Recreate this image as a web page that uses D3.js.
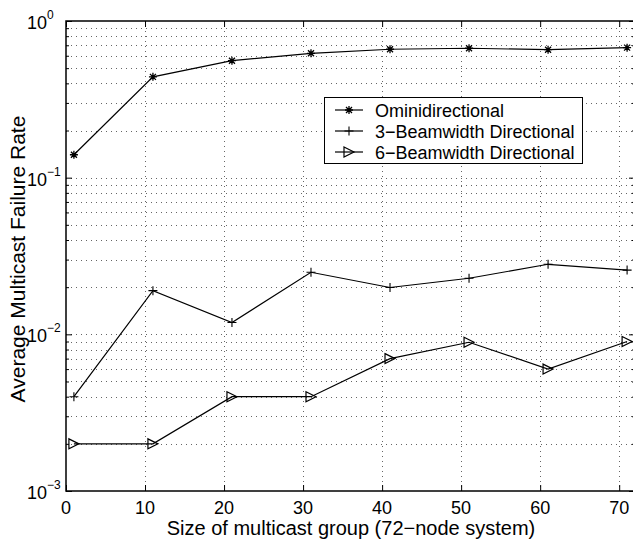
<!DOCTYPE html>
<html><head><meta charset="utf-8">
<script src="https://cdn.jsdelivr.net/npm/d3@7"></script>
<style>body{margin:0;background:#fff}svg{display:block}text{font-family:"Liberation Sans",Arial,Helvetica,sans-serif;fill:#000}</style>
</head><body>
<script>
const groupSizes = [1, 11, 21, 31, 41, 51, 61, 71];
const omni = [0.14, 0.44, 0.558, 0.622, 0.66, 0.67, 0.656, 0.676];
const beam3 = [0.004, 0.019, 0.0119, 0.0249, 0.0199, 0.0228, 0.028, 0.0257];
const beam6 = [0.002, 0.002, 0.004, 0.004, 0.007, 0.0089, 0.006, 0.009];
const seriesNames = ["Ominidirectional", "3\u2212Beamwidth Directional", "6\u2212Beamwidth Directional"];
const xTicks = [0, 10, 20, 30, 40, 50, 60, 70];
const yDecades = [1e-3, 1e-2, 1e-1, 1e0];
const yExponents = ["\u22123", "\u22122", "\u22121", "0"];

const W = 633, H = 540;
const m = {left: 66, top: 21, right: 635, bottom: 491};
const svg = d3.select("body").append("svg").attr("width", W).attr("height", H);
const x = d3.scaleLinear().domain([0, 72]).range([m.left, m.right]);
const y = d3.scaleLog().domain([1e-3, 1]).range([m.bottom, m.top]);

const minorVals = [];
[1e-3, 1e-2, 1e-1].forEach(d => { for (let k = 2; k <= 9; k++) minorVals.push(d * k); });
const allY = yDecades.concat(minorVals);

const grid = svg.append("g").attr("stroke", "#666").attr("stroke-width", 1).attr("stroke-dasharray", "1,4");
grid.selectAll("line.h").data(allY.filter(v => v > 1e-3 && v < 1)).enter().append("line")
  .attr("x1", m.left).attr("x2", m.right).attr("y1", d => Math.round(y(d)) + 0.5).attr("y2", d => Math.round(y(d)) + 0.5);
grid.selectAll("line.v").data(xTicks.filter(v => v > 0)).enter().append("line")
  .attr("y1", m.top).attr("y2", m.bottom).attr("x1", d => Math.round(x(d)) + 0.5).attr("x2", d => Math.round(x(d)) + 0.5);

const axB = svg.append("g").attr("transform", `translate(0,${m.bottom})`)
  .call(d3.axisBottom(x).tickValues(xTicks).tickSizeInner(-6).tickSizeOuter(0).tickFormat(""));
const axT = svg.append("g").attr("transform", `translate(0,${m.top})`)
  .call(d3.axisTop(x).tickValues(xTicks).tickSizeInner(-6).tickSizeOuter(0).tickFormat(""));
const axL = svg.append("g").attr("transform", `translate(${m.left},0)`)
  .call(d3.axisLeft(y).tickValues(yDecades).tickSizeInner(-6).tickSizeOuter(0).tickFormat(""));
const axR = svg.append("g").attr("transform", `translate(${m.right},0)`)
  .call(d3.axisRight(y).tickValues(yDecades).tickSizeInner(-6).tickSizeOuter(0).tickFormat(""));
const axLm = svg.append("g").attr("transform", `translate(${m.left},0)`)
  .call(d3.axisLeft(y).tickValues(minorVals).tickSizeInner(-3).tickSizeOuter(0).tickFormat(""));
const axRm = svg.append("g").attr("transform", `translate(${m.right},0)`)
  .call(d3.axisRight(y).tickValues(minorVals).tickSizeInner(-3).tickSizeOuter(0).tickFormat(""));
[axB, axT, axL, axR, axLm, axRm].forEach(a => {
  a.select(".domain").remove();
  a.selectAll("line").attr("stroke", "#000").attr("stroke-width", 1);
});
svg.append("rect").attr("x", m.left).attr("y", m.top).attr("width", m.right - m.left).attr("height", m.bottom - m.top)
  .attr("fill", "none").attr("stroke", "#000").attr("stroke-width", 1.5);

svg.append("g").selectAll("text").data(xTicks).enter().append("text")
  .attr("x", d => x(d)).attr("y", 514).attr("text-anchor", "middle").attr("font-size", 18).text(d => d);
const yl = svg.append("g").selectAll("g").data(yDecades).enter().append("g");
yl.append("text").attr("x", 47).attr("y", d => y(d) + 8).attr("text-anchor", "end").attr("font-size", 18).text("10");
yl.append("text").attr("x", 47).attr("y", (d, i) => y(d) - 2).attr("font-size", 12).text((d, i) => yExponents[i]);

svg.append("text").attr("x", 351).attr("y", 535).attr("text-anchor", "middle").attr("font-size", 20)
  .text("Size of multicast group (72\u2212node system)");
svg.append("text").attr("transform", `translate(25,259)rotate(-90)`).attr("text-anchor", "middle")
  .attr("font-size", 21).text("Average Multicast Failure Rate");

const line = d3.line().x(d => x(d[0])).y(d => y(d[1]));
const allSeries = [omni, beam3, beam6];
const markers = ["star", "plus", "tri"];
function drawMarker(g, type, cx, cy) {
  if (type === "star") {
    const r = 4;
    const q = r * 0.75;
    g.append("path").attr("stroke", "#000").attr("stroke-width", 1.3).attr("fill", "none")
      .attr("d", `M${cx - r},${cy}H${cx + r}M${cx},${cy - r}V${cy + r}M${cx - q},${cy - q}L${cx + q},${cy + q}M${cx - q},${cy + q}L${cx + q},${cy - q}`);
  } else if (type === "plus") {
    const r = 4.5;
    g.append("path").attr("stroke", "#000").attr("stroke-width", 1.1).attr("fill", "none")
      .attr("d", `M${cx - r},${cy}H${cx + r}M${cx},${cy - r}V${cy + r}`);
  } else {
    const r = 5;
    g.append("path").attr("stroke", "#000").attr("stroke-width", 1.2).attr("fill", "none")
      .attr("d", `M${cx - r},${cy - r}L${cx + r},${cy}L${cx - r},${cy + r}Z`);
  }
}
allSeries.forEach((vals, si) => {
  const pts = groupSizes.map((g, i) => [g, vals[i]]);
  svg.append("path").datum(pts).attr("d", line).attr("fill", "none").attr("stroke", "#000").attr("stroke-width", 1.2);
  const g = svg.append("g");
  pts.forEach(p => drawMarker(g, markers[si], x(p[0]), y(p[1])));
});

const lg = svg.append("g");
lg.append("rect").attr("x", 324.5).attr("y", 97.5).attr("width", 258).attr("height", 66).attr("fill", "#fff").attr("stroke", "#000").attr("stroke-width", 1);
const rowsY = [110, 131, 152];
seriesNames.forEach((n, i) => {
  lg.append("line").attr("x1", 335).attr("x2", 363).attr("y1", rowsY[i]).attr("y2", rowsY[i]).attr("stroke", "#000").attr("stroke-width", 1.2);
  drawMarker(lg, markers[i], 349, rowsY[i]);
  lg.append("text").attr("x", 375).attr("y", rowsY[i] + 6.5).attr("font-size", 18).text(n);
});
</script>
</body></html>
